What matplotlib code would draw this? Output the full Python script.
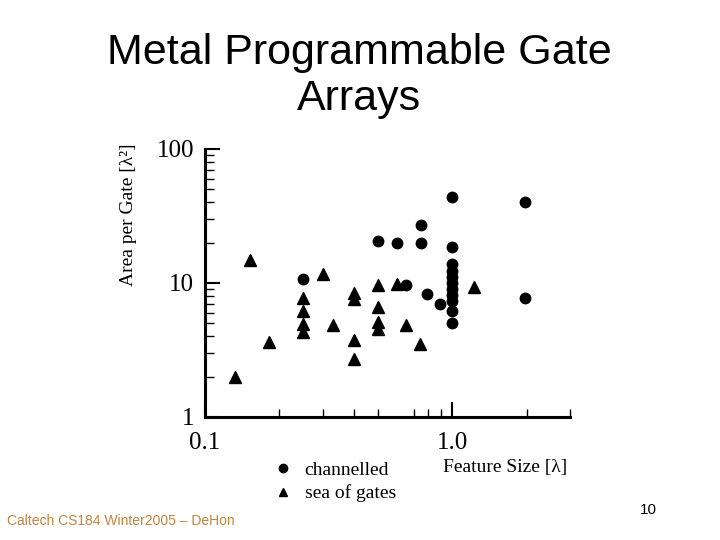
import matplotlib
matplotlib.use("Agg")
import matplotlib.pyplot as plt
from matplotlib.ticker import FixedLocator, NullFormatter

# channelled gate arrays (feature size, area per gate)
chan_x = [0.25, 0.50, 0.60, 0.65, 0.75, 0.75, 0.79, 0.89,
          1.0, 1.0, 1.0, 1.0, 1.0, 1.0, 1.0, 1.0, 1.0, 1.0, 1.0,
          1.97, 1.97]
chan_y = [10.7, 20.6, 19.9, 9.7, 27.1, 19.9, 8.3, 7.0,
          43.8, 18.6, 13.9, 12.2, 11.0, 10.0, 9.0, 8.2, 7.4, 6.2, 5.0,
          40.2, 7.7]

# sea of gates
sog_x = [0.132, 0.152, 0.182, 0.25, 0.25, 0.25, 0.25, 0.30, 0.33,
         0.40, 0.40, 0.40, 0.40, 0.50, 0.50, 0.50, 0.50, 0.60, 0.65,
         0.74, 1.23]
sog_y = [1.99, 14.8, 3.63, 7.7, 6.2, 4.94, 4.3, 11.7, 4.86,
         8.4, 7.6, 3.76, 2.71, 9.7, 6.6, 5.1, 4.5, 9.8, 4.9,
         3.5, 9.35]

x_major = [0.1, 1.0]
x_major_labels = ['0.1', '1.0']
x_minor = [0.2, 0.3, 0.4, 0.5, 0.7, 0.8, 0.9, 2, 3]
y_major = [1, 10, 100]
y_major_labels = ['1', '10', '100']
y_minor = [2, 3, 4, 5, 6, 7, 8, 9, 20, 30, 40, 50, 60, 70, 80, 90]

serif = 'Liberation Serif'

fig = plt.figure(figsize=(7.2, 5.4), dpi=100)
ax = fig.add_axes([0.2847, 0.2278, 0.507, 0.4963])

ax.plot(chan_x, chan_y, 'o', color='black', markersize=7.5, label='channelled')
ax.plot(sog_x, sog_y, '^', color='black', markersize=8, label='sea of gates')

ax.set_xscale('log')
ax.set_yscale('log')
ax.set_xlim(0.1, 3.0)
ax.set_ylim(1, 100)

ax.xaxis.set_major_locator(FixedLocator(x_major))
ax.xaxis.set_minor_locator(FixedLocator(x_minor))
ax.set_xticklabels(x_major_labels)
ax.xaxis.set_minor_formatter(NullFormatter())
ax.yaxis.set_major_locator(FixedLocator(y_major))
ax.yaxis.set_minor_locator(FixedLocator(y_minor))
ax.set_yticklabels(y_major_labels)
ax.yaxis.set_minor_formatter(NullFormatter())

for s in ['top', 'right']:
    ax.spines[s].set_visible(False)
for s in ['left', 'bottom']:
    ax.spines[s].set_linewidth(2.2)

ax.tick_params(which='major', direction='in', length=11, width=1.5)
ax.tick_params(which='minor', direction='in', length=6.5, width=1)
ax.tick_params(axis='x', which='minor', length=5.5)
ax.tick_params(axis='y', which='major', pad=8, labelsize=18)
ax.tick_params(axis='x', which='major', pad=11, labelsize=18)
for lab in ax.get_xticklabels() + ax.get_yticklabels():
    lab.set_fontfamily(serif)

fig.text(0.178, 0.602, 'Area per Gate [λ²]', rotation=90, ha='center', va='center',
         fontsize=14, family=serif)
fig.text(0.701, 0.135, 'Feature Size [λ]', ha='center', va='center',
         fontsize=14, family=serif)

fig.legend(loc='upper left', bbox_to_anchor=(0.380, 0.146), frameon=False,
           prop={'family': serif, 'size': 14}, handlelength=1.0, handletextpad=0.6,
           borderpad=0, borderaxespad=0, labelspacing=0.3, markerscale=0.8)

fig.text(0.499, 0.859, 'Metal Programmable Gate\nArrays', ha='center', va='center',
         fontsize=31, family='Liberation Sans', linespacing=1.2)
fig.text(0.01, 0.035, 'Caltech CS184 Winter2005 – DeHon', ha='left', va='center',
         fontsize=10, family='Liberation Sans', color='#c8823c')
fig.text(0.901, 0.056, '10', ha='center', va='center', fontsize=11,
         family='Liberation Sans')

fig.savefig('out.png', dpi=100)
